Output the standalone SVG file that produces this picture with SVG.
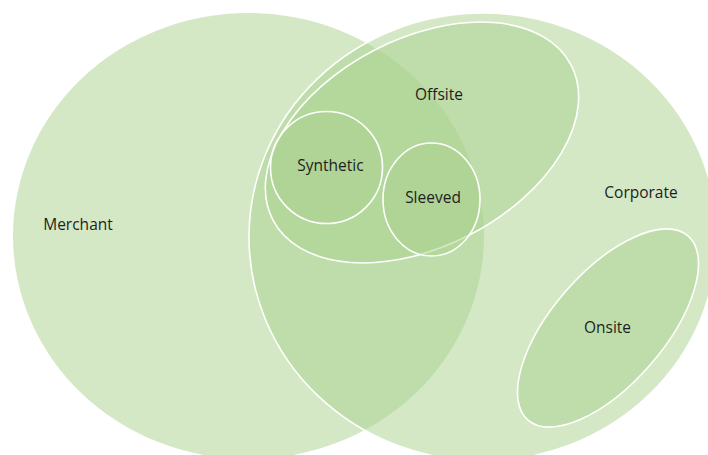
<svg xmlns="http://www.w3.org/2000/svg" width="708" height="455" viewBox="0 0 708 455">
<style>
.s{fill:#a9d18e;fill-opacity:0.5}
.w{stroke:#ffffff;stroke-width:1.6}
.t{font-family:"Open Sans","Liberation Sans",sans-serif;font-size:15.5px;fill:#1e1e1e;text-anchor:middle}
</style>
<rect width="708" height="455" fill="#ffffff"/>
<g id="merchant">
<ellipse class="s" cx="248.5" cy="236" rx="235.5" ry="223"/>
<text class="t" x="78" y="230">Merchant</text>
</g>
<g id="corporate">
<ellipse class="s w" cx="483" cy="237" rx="234" ry="224"/>
<text class="t" x="641" y="198">Corporate</text>
</g>
<g id="offsite">
<ellipse class="s w" cx="422" cy="142.5" rx="168" ry="104" transform="rotate(-27.4 422 142.5)"/>
<text class="t" x="439" y="100">Offsite</text>
</g>
<g id="onsite">
<ellipse class="s w" cx="608" cy="328" rx="122" ry="56" transform="rotate(-49 608 328)"/>
<text class="t" x="607.5" y="333">Onsite</text>
</g>
<g id="synthetic">
<circle class="s w" cx="326.5" cy="167.5" r="56"/>
<text class="t" x="330.5" y="171">Synthetic</text>
</g>
<g id="sleeved">
<ellipse class="s w" cx="431.5" cy="199.5" rx="48.5" ry="56.5"/>
<text class="t" x="433" y="203">Sleeved</text>
</g>
<g id="connectors"></g>
</svg>
